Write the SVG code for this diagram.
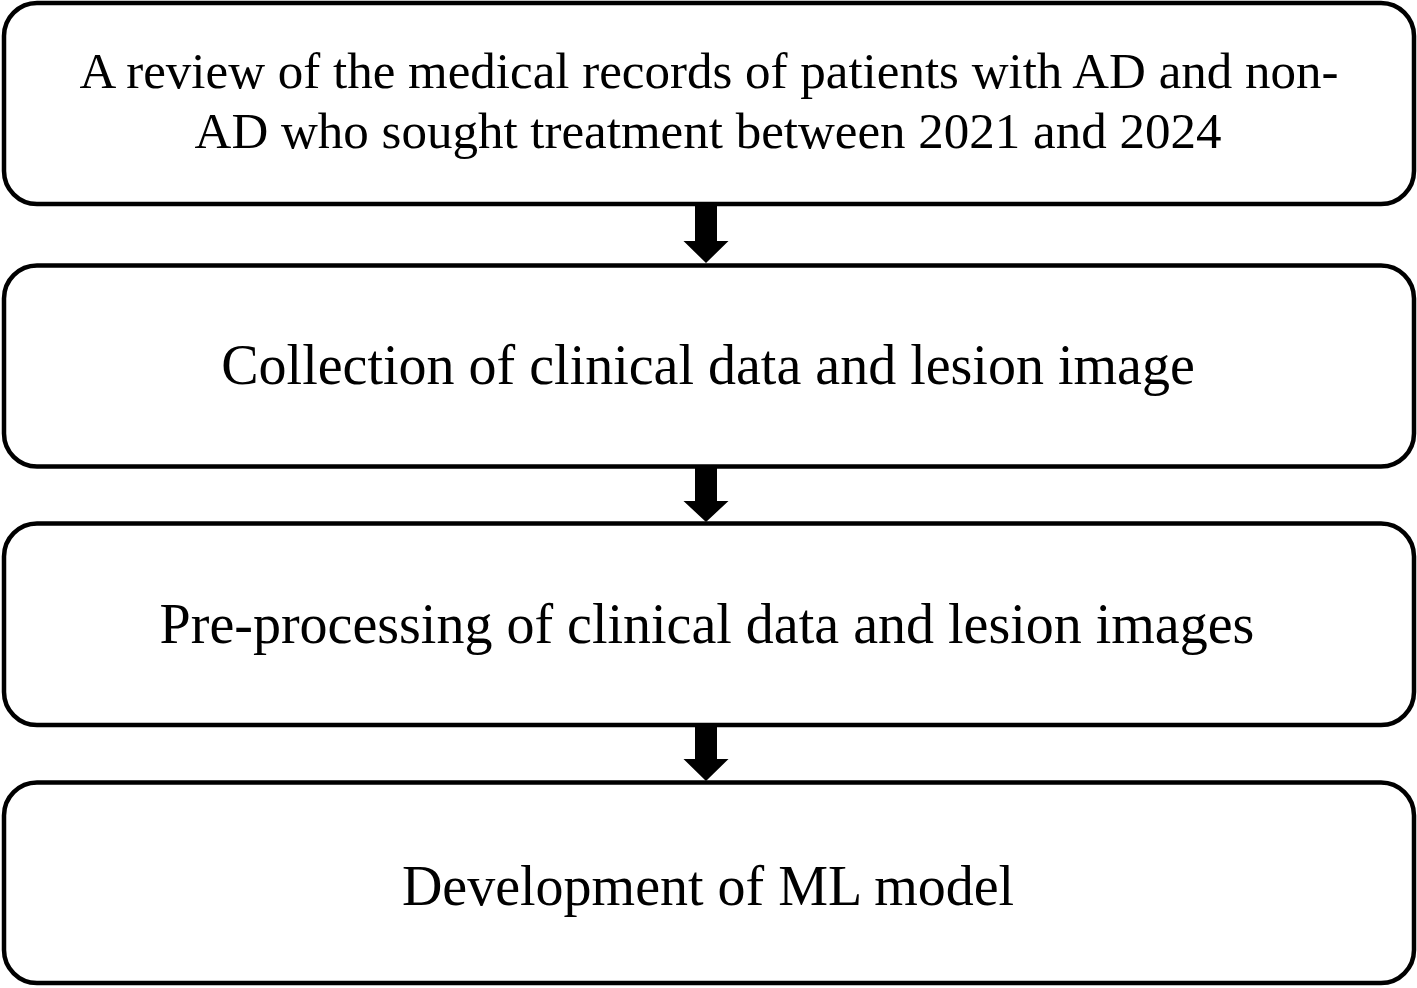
<svg xmlns="http://www.w3.org/2000/svg" width="1417" height="988" viewBox="0 0 1417 988">
<style>
.box{fill:#fff;stroke:#000;stroke-width:4.5}
.lbl{font-family:"Liberation Serif","Times New Roman",serif;font-size:56px;fill:#000;text-anchor:middle}
.sm{font-size:51px}
.arr{fill:#000;stroke:none}
</style>
<rect width="1417" height="988" fill="#fff"/>
<g id="node1">
<rect class="box" x="4" y="3" width="1410" height="201" rx="33" ry="33"/>
<text class="lbl sm" x="709" y="88">A review of the medical records of patients with AD and non-</text>
<text class="lbl sm" x="708" y="148">AD who sought treatment between 2021 and 2024</text>
</g>
<g id="node2">
<rect class="box" x="4" y="265.5" width="1410" height="201" rx="33" ry="33"/>
<text class="lbl" x="708" y="384">Collection of clinical data and lesion image</text>
</g>
<g id="node3">
<rect class="box" x="4" y="523.5" width="1410" height="201.5" rx="33" ry="33"/>
<text class="lbl" x="707" y="643">Pre-processing of clinical data and lesion images</text>
</g>
<g id="node4">
<rect class="box" x="4" y="782.5" width="1410" height="200.5" rx="33" ry="33"/>
<text class="lbl" x="708" y="905">Development of ML model</text>
</g>
<g id="connectors">
<polygon class="arr" points="695,206 717,206 717,241 728.5,241 706,263 683.5,241 695,241"/>
<polygon class="arr" points="695,468 717,468 717,501 728.5,501 706,522 683.5,501 695,501"/>
<polygon class="arr" points="695,727 717,727 717,759 728.5,759 706,781 683.5,759 695,759"/>
</g>
</svg>
